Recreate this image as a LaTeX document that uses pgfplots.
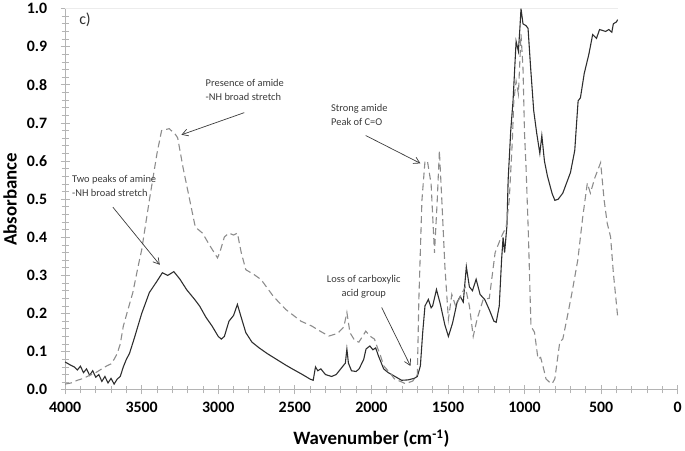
\documentclass[border=0pt]{standalone}
\usepackage{fontspec}
\setmainfont{Carlito}
\usepackage{pgfplots}
\pgfplotsset{compat=1.18}
\usetikzlibrary{arrows.meta}
\definecolor{solidcol}{HTML}{2E2E2E}
\definecolor{dashcol}{HTML}{8C8C8C}
\definecolor{annot}{HTML}{3A3A3A}
\definecolor{axcol}{HTML}{B4B4B4}

\begin{document}
\begin{tikzpicture}
\begin{axis}[
    scale only axis,
    width=617pt, height=384pt,
    x dir=reverse,
    xmin=0, xmax=4000,
    ymin=0, ymax=1,
    axis x line*=bottom,
    axis y line*=left,
    axis line style={axcol, line width=0.8pt, -},
    tick style={axcol, line width=0.8pt},
    tick align=center,
    major tick length=9pt,
    minor tick length=7pt,
    xtick={0,500,...,4000},
    ytick={0,0.1,...,1.0},
    minor x tick num=4,
    minor y tick num=4,
    /pgf/number format/assume math mode=true,
    ticklabel style={font=\bfseries\fontsize{16}{16}\selectfont, black},
    xticklabel style={/pgf/number format/1000 sep={}, yshift=-4pt},
    yticklabel style={/pgf/number format/fixed, /pgf/number format/fixed zerofill,
        /pgf/number format/precision=1, xshift=-10pt},
    xlabel={Wavenumber (cm\textsuperscript{-1})},
    ylabel={Absorbance},
    label style={font=\bfseries\fontsize{19}{19}\selectfont},
    xlabel style={at={(axis description cs:0.5,-0.128)}, anchor=center},
    ylabel style={at={(axis description cs:-0.090,0.5)}, anchor=center},
    clip=false,
]

% faint line along the top
\draw[gray!15, line width=0.8pt] (axis cs:4000,1) -- (axis cs:390,1);

% amine (solid)
\addplot[solidcol, line width=1.1pt] coordinates {
(4000,0.073) (3970,0.066) (3940,0.060) (3920,0.052) (3900,0.062) (3880,0.045)
(3860,0.055) (3840,0.038) (3820,0.050) (3800,0.033) (3780,0.040) (3760,0.022)
(3740,0.035) (3720,0.018) (3700,0.030) (3680,0.015) (3660,0.028) (3640,0.035)
(3620,0.060) (3600,0.080) (3580,0.095) (3550,0.133) (3500,0.200) (3450,0.255)
(3400,0.285) (3365,0.307) (3330,0.300) (3290,0.310) (3250,0.290) (3207,0.263)
(3150,0.235) (3122,0.220) (3080,0.190) (3040,0.167) (3000,0.140) (2980,0.133)
(2960,0.140) (2930,0.180) (2900,0.195) (2875,0.224) (2850,0.190) (2820,0.150)
(2780,0.125) (2733,0.110) (2680,0.095) (2620,0.080) (2560,0.065) (2517,0.055)
(2450,0.040) (2400,0.028) (2380,0.025) (2365,0.060) (2350,0.050) (2330,0.055)
(2300,0.040) (2260,0.035) (2230,0.040) (2200,0.055) (2170,0.070) (2160,0.107)
(2150,0.070) (2130,0.050) (2100,0.048) (2080,0.055) (2050,0.080) (2035,0.107)
(2010,0.115) (1990,0.105) (1972,0.110) (1955,0.090) (1940,0.075) (1920,0.055)
(1890,0.045) (1850,0.036) (1803,0.025) (1760,0.026) (1720,0.030) (1700,0.035)
(1680,0.063) (1665,0.150) (1650,0.220) (1628,0.237) (1610,0.215) (1600,0.220)
(1575,0.263) (1550,0.225) (1520,0.170) (1497,0.140) (1470,0.175) (1440,0.230)
(1420,0.245) (1400,0.230) (1380,0.323) (1360,0.270) (1340,0.260) (1316,0.290)
(1290,0.250) (1260,0.237) (1230,0.210) (1200,0.180) (1185,0.177) (1165,0.220)
(1150,0.340) (1140,0.400) (1130,0.360) (1115,0.430) (1107,0.550) (1090,0.680)
(1075,0.758) (1055,0.914) (1040,0.888) (1030,0.950) (1023,1.000) (1010,0.960)
(990,0.955) (977,0.948) (960,0.844) (940,0.732) (920,0.672) (900,0.620)
(887,0.667) (870,0.600) (850,0.560) (820,0.515) (802,0.497) (780,0.500)
(750,0.516) (700,0.570) (672,0.628) (660,0.700) (650,0.758) (635,0.766)
(610,0.830) (580,0.880) (555,0.932) (530,0.922) (510,0.945) (470,0.940)
(450,0.945) (430,0.938) (420,0.960) (400,0.965) (392,0.971)
};

% amide (dashed)
\addplot[dashcol, line width=1.1pt, dash pattern=on 7pt off 4pt] coordinates {
(4000,0.015) (3960,0.018) (3920,0.025) (3880,0.030) (3850,0.036) (3800,0.045)
(3760,0.055) (3727,0.063) (3700,0.068) (3680,0.080) (3660,0.095) (3640,0.120)
(3620,0.167) (3590,0.210) (3558,0.255) (3520,0.330) (3500,0.367) (3450,0.497)
(3400,0.620) (3370,0.680) (3320,0.685) (3280,0.670) (3265,0.661) (3230,0.583)
(3190,0.505) (3150,0.427) (3103,0.411) (3050,0.375) (3005,0.346) (2990,0.360)
(2960,0.401) (2930,0.411) (2900,0.406) (2875,0.411) (2850,0.360) (2820,0.315)
(2765,0.302) (2720,0.289) (2640,0.245) (2560,0.211) (2460,0.180) (2388,0.167)
(2340,0.155) (2278,0.141) (2220,0.148) (2180,0.165) (2160,0.203) (2140,0.150)
(2110,0.130) (2082,0.125) (2050,0.145) (2037,0.154) (2010,0.141) (1980,0.133)
(1960,0.110) (1940,0.089) (1920,0.063) (1880,0.045) (1850,0.029) (1777,0.016)
(1730,0.023) (1700,0.040) (1690,0.237) (1670,0.497) (1650,0.600) (1634,0.600)
(1610,0.540) (1588,0.359) (1570,0.497) (1556,0.627) (1540,0.497) (1520,0.323)
(1497,0.185) (1475,0.250) (1450,0.220) (1387,0.270) (1360,0.220) (1335,0.140)
(1310,0.185) (1270,0.237) (1230,0.240) (1192,0.360) (1153,0.400) (1120,0.427)
(1100,0.497) (1080,0.650) (1070,0.758) (1055,0.810) (1040,0.776) (1023,0.932)
(1010,0.844) (1000,0.672) (990,0.583) (975,0.411) (958,0.167) (935,0.151)
(912,0.081) (895,0.085) (880,0.063) (860,0.029) (840,0.021) (820,0.016)
(802,0.029) (770,0.125) (750,0.133) (720,0.193) (690,0.255) (652,0.341)
(620,0.453) (590,0.542) (570,0.516) (540,0.557) (503,0.596) (480,0.497)
(460,0.437) (438,0.401) (420,0.307) (392,0.193)
};

% annotations
\node[font=\fontsize{16}{16}\selectfont, text=solidcol] at (axis cs:3870,0.971) {c)};

\node[anchor=north west, inner sep=0pt, align=left, text=annot,
      font=\fontsize{10.5}{14}\selectfont] at (axis cs:3083,0.815)
      {Presence of amide\\-NH broad stretch};
\draw[annot, line width=0.7pt, -{Straight Barb[length=6pt,width=7pt]}]
      (axis cs:2830,0.727) -- (axis cs:3240,0.669);

\node[anchor=north west, inner sep=0pt, align=left, text=annot,
      font=\fontsize{10.5}{14}\selectfont] at (axis cs:3955,0.5625)
      {Two peaks of amine\\-NH broad stretch};
\draw[annot, line width=0.7pt, -{Straight Barb[length=6pt,width=7pt]}]
      (axis cs:3688,0.479) -- (axis cs:3382,0.328);

\node[anchor=north west, inner sep=0pt, align=left, text=annot,
      font=\fontsize{10.5}{14}\selectfont] at (axis cs:2264,0.75)
      {Strong amide\\Peak of C=O};
\draw[annot, line width=0.7pt, -{Straight Barb[length=6pt,width=7pt]}]
      (axis cs:2037,0.667) -- (axis cs:1680,0.594);

\node[anchor=north, inner sep=0pt, align=center, text=annot,
      font=\fontsize{10.5}{14}\selectfont] at (axis cs:2050,0.30)
      {Loss of carboxylic\\acid group};
\draw[annot, line width=0.7pt, -{Straight Barb[length=6pt,width=7pt]}]
      (axis cs:1933,0.216) -- (axis cs:1745,0.0625);

\end{axis}
\end{tikzpicture}
\end{document}
